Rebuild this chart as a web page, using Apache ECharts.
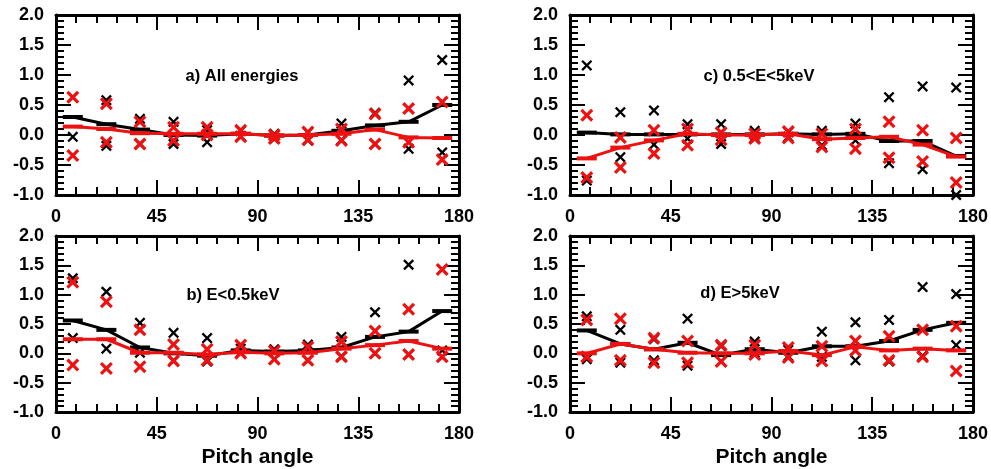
<!DOCTYPE html>
<html>
<head>
<meta charset="utf-8">
<title>Pitch angle distributions</title>
<script src="https://cdn.jsdelivr.net/npm/echarts@6/dist/echarts.min.js"></script>
<style>
  html, body { margin: 0; padding: 0; background: #ffffff; }
  #chart { width: 991px; height: 469px; }
</style>
</head>
<body>
<div id="chart"></div>
<script>
// Pitch-angle bin centres (degrees)
const pitchAngles = [7.5, 22.5, 37.5, 52.5, 67.5, 82.5, 97.5, 112.5, 127.5, 142.5, 157.5, 172.5];
const xTicks = [0, 45, 90, 135, 180];
const yTicks = [-1.0, -0.5, 0.0, 0.5, 1.0, 1.5, 2.0];

// a) All energies
const aBlackMean  = [0.30, 0.18, 0.09, 0.00, -0.01, 0.02, -0.01, 0.00, 0.07, 0.16, 0.22, 0.50];
const aBlackUpper = [0.63, 0.58, 0.27, 0.22, 0.08, 0.07, 0.02, 0.04, 0.19, 0.37, 0.91, 1.25];
const aBlackLower = [-0.03, -0.18, -0.15, -0.15, -0.12, -0.02, -0.06, -0.09, -0.08, -0.15, -0.23, -0.29];
const aRedMean    = [0.14, 0.10, 0.03, 0.02, 0.02, 0.02, -0.01, 0.00, 0.02, 0.09, -0.04, -0.05];
const aRedUpper   = [0.63, 0.52, 0.22, 0.13, 0.13, 0.08, 0.00, 0.05, 0.10, 0.35, 0.44, 0.55];
const aRedLower   = [-0.34, -0.12, -0.15, -0.09, 0.00, -0.03, -0.06, -0.08, -0.09, -0.15, -0.12, -0.41];

// b) E<0.5keV
const bBlackMean  = [0.56, 0.40, 0.10, 0.00, -0.04, 0.05, 0.03, 0.05, 0.10, 0.28, 0.37, 0.72];
const bBlackUpper = [1.28, 1.05, 0.52, 0.35, 0.26, 0.08, 0.07, 0.15, 0.28, 0.70, 1.51, 1.43];
const bBlackLower = [0.26, 0.08, 0.01, -0.12, -0.14, 0.01, -0.10, -0.12, -0.05, 0.00, -0.02, 0.05];
const bRedMean    = [0.24, 0.24, 0.01, 0.01, -0.02, 0.02, 0.00, 0.01, 0.08, 0.14, 0.21, 0.08];
const bRedUpper   = [1.21, 0.88, 0.40, 0.15, 0.07, 0.14, 0.04, 0.11, 0.20, 0.38, 0.75, 1.43];
const bRedLower   = [-0.20, -0.26, -0.23, -0.13, -0.12, 0.00, -0.10, -0.12, -0.06, 0.00, -0.02, -0.06];

// c) 0.5<E<5keV
const cBlackMean  = [0.04, 0.01, 0.01, 0.01, 0.01, 0.01, 0.02, 0.01, 0.02, -0.10, -0.10, -0.35];
const cBlackUpper = [1.16, 0.38, 0.41, 0.18, 0.18, 0.07, 0.05, 0.07, 0.19, 0.63, 0.81, 0.79];
const cBlackLower = [-0.76, -0.37, -0.16, -0.06, -0.15, -0.04, -0.03, -0.17, -0.09, -0.47, -0.57, -1.00];
const cRedMean    = [-0.39, -0.21, -0.09, 0.02, 0.00, 0.00, 0.02, -0.07, -0.05, -0.03, -0.16, -0.36];
const cRedUpper   = [0.33, -0.04, 0.08, 0.10, 0.04, 0.02, 0.06, 0.02, 0.10, 0.22, 0.08, -0.05];
const cRedLower   = [-0.71, -0.54, -0.31, -0.17, -0.08, -0.06, -0.05, -0.20, -0.23, -0.38, -0.44, -0.79];

// d) E>5keV
const dBlackMean  = [0.39, 0.16, 0.07, 0.18, -0.03, 0.07, 0.01, 0.12, 0.12, 0.21, 0.40, 0.52];
const dBlackUpper = [0.63, 0.40, 0.24, 0.59, 0.12, 0.20, 0.06, 0.37, 0.53, 0.57, 1.13, 1.01];
const dBlackLower = [-0.10, -0.16, -0.12, -0.21, -0.14, 0.01, -0.05, -0.06, -0.12, -0.14, -0.04, 0.14];
const dRedMean    = [0.00, 0.16, 0.07, 0.01, 0.00, 0.00, 0.04, -0.03, 0.11, 0.05, 0.08, 0.05];
const dRedUpper   = [0.57, 0.59, 0.26, 0.21, 0.14, 0.14, 0.10, 0.12, 0.21, 0.29, 0.40, 0.46];
const dRedLower   = [-0.06, -0.12, -0.16, -0.16, -0.14, -0.02, -0.07, -0.13, 0.05, -0.12, -0.06, -0.30];

const panels = [
  { title: 'a) All energies', blk: [aBlackMean, aBlackUpper, aBlackLower], red: [aRedMean, aRedUpper, aRedLower] },
  { title: 'c) 0.5<E<5keV',   blk: [cBlackMean, cBlackUpper, cBlackLower], red: [cRedMean, cRedUpper, cRedLower] },
  { title: 'b) E<0.5keV',     blk: [bBlackMean, bBlackUpper, bBlackLower], red: [bRedMean, bRedUpper, bRedLower] },
  { title: 'd) E>5keV',       blk: [dBlackMean, dBlackUpper, dBlackLower], red: [dRedMean, dRedUpper, dRedLower] }
];

// Layout of the four frames (px)
const frames = [
  { left: 56,  top: 15,  width: 403, height: 180, tx: 242, ty: 76,  xName: '' },
  { left: 570, top: 15,  width: 403, height: 180, tx: 759, ty: 76,  xName: '' },
  { left: 56,  top: 236, width: 403, height: 178, tx: 233, ty: 295, xName: 'Pitch angle' },
  { left: 570, top: 236, width: 403, height: 178, tx: 740, ty: 293, xName: 'Pitch angle' }
];

const FONT = '"Liberation Sans", Arial, Helvetica, sans-serif';
const INK = '#000000';
const RED = '#ee1111';

// Cross-shaped markers built as filled outlines
function crossPath(d) {
  const a = 5 - d, b = 5 + d, e = 10 - d;
  return 'path://M0,' + d + 'L' + d + ',0L5,' + a + 'L' + e + ',0L10,' + d + 'L' + b + ',5L10,' + e +
         'L' + e + ',10L5,' + b + 'L' + d + ',10L0,' + e + 'L' + a + ',5Z';
}
const blackCross = crossPath(1.5);
const redCross = crossPath(1.75);

function pairs(values) {
  return pitchAngles.map((p, i) => [p, values[i]]);
}

const tickStyle = { color: INK, width: 2 };
function makeX(gi, pos, showLabels, name) {
  return {
    type: 'value', gridIndex: gi, position: pos, min: 0, max: 180, interval: 45,
    axisLine: { show: true, onZero: false, lineStyle: { color: INK, width: 3 } },
    axisTick: { show: true, inside: true, length: 15, lineStyle: tickStyle },
    minorTick: { show: true, splitNumber: 5, length: 8, lineStyle: tickStyle },
    splitLine: { show: false },
    axisLabel: {
      show: showLabels, margin: 13, color: INK, fontFamily: FONT, fontWeight: 'bold', fontSize: 18,
      customValues: xTicks
    },
    name: name, nameLocation: 'middle', nameGap: 35,
    nameTextStyle: { color: INK, fontFamily: FONT, fontWeight: 'bold', fontSize: 21 }
  };
}
function makeY(gi, pos, showLabels) {
  return {
    type: 'value', gridIndex: gi, position: pos, min: -1, max: 2, interval: 0.5,
    axisLine: { show: true, onZero: false, lineStyle: { color: INK, width: 3 } },
    axisTick: { show: true, inside: true, length: 15, lineStyle: tickStyle },
    minorTick: { show: true, splitNumber: 5, length: 8, lineStyle: tickStyle },
    splitLine: { show: false },
    axisLabel: {
      show: showLabels, margin: 12, color: INK, fontFamily: FONT, fontWeight: 'bold', fontSize: 18,
      padding: [7, 0, 0, 0],
      formatter: v => Number(v).toFixed(1)
    }
  };
}

const grid = [], xAxis = [], yAxis = [], series = [], graphic = [];
frames.forEach((f, gi) => {
  grid.push({ left: f.left, top: f.top, width: f.width, height: f.height, containLabel: false });
  xAxis.push(makeX(gi, 'bottom', true, f.xName));
  xAxis.push(makeX(gi, 'top', false, ''));
  yAxis.push(makeY(gi, 'left', true));
  yAxis.push(makeY(gi, 'right', false));
  const xi = gi * 2, yi = gi * 2;
  const p = panels[gi];

  // black cross limits
  [p.blk[1], p.blk[2]].forEach(vals => series.push({
    type: 'scatter', xAxisIndex: xi, yAxisIndex: yi, data: pairs(vals),
    symbol: blackCross, symbolSize: 11, itemStyle: { color: INK, opacity: 1 }, z: 3
  }));
  // black line
  series.push({
    type: 'line', xAxisIndex: xi, yAxisIndex: yi, data: pairs(p.blk[0]),
    symbol: 'rect', symbolSize: [20, 4], itemStyle: { color: INK, opacity: 1 },
    lineStyle: { color: INK, width: 3 }, z: 4
  });
  // red cross limits
  [p.red[1], p.red[2]].forEach(vals => series.push({
    type: 'scatter', xAxisIndex: xi, yAxisIndex: yi, data: pairs(vals),
    symbol: redCross, symbolSize: 13, itemStyle: { color: RED, opacity: 1 }, z: 5
  }));
  // red line
  series.push({
    type: 'line', xAxisIndex: xi, yAxisIndex: yi, data: pairs(p.red[0]),
    symbol: 'rect', symbolSize: [20, 4], itemStyle: { color: RED, opacity: 1 },
    lineStyle: { color: RED, width: 3 }, z: 6
  });

  graphic.push({
    type: 'text', x: f.tx, y: f.ty,
    style: {
      text: p.title, fill: INK, font: 'bold 16.5px ' + FONT,
      textAlign: 'center', textVerticalAlign: 'middle'
    }
  });
});

const chart = echarts.init(document.getElementById('chart'), null, { renderer: 'canvas' });
chart.setOption({
  backgroundColor: '#ffffff',
  animation: false,
  grid: grid,
  xAxis: xAxis,
  yAxis: yAxis,
  series: series,
  graphic: graphic
});
</script>
</body>
</html>
